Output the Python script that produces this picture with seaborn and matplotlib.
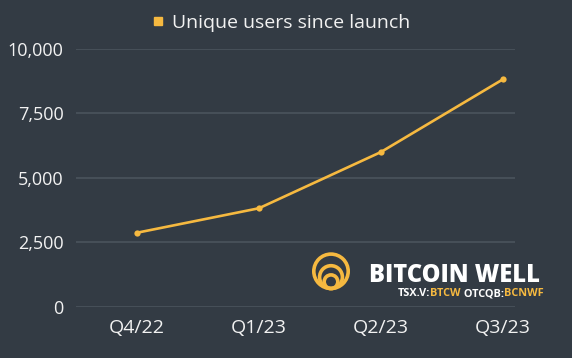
import matplotlib
matplotlib.use("Agg")
import matplotlib.pyplot as plt
from matplotlib.lines import Line2D
from matplotlib.patches import Circle
import seaborn as sns
import pandas as pd

# data
quarters = ["Q4/22", "Q1/23", "Q2/23", "Q3/23"]
users = [2870, 3820, 6000, 8820]
series_name = "Unique users since launch"

BG = "#333b44"
GOLD = "#f6b940"
GRID = "#4b545d"
TXT = "#f2f2f2"

sns.set_theme(style="dark")
plt.rcParams["font.family"] = ["Open Sans", "DejaVu Sans"]

df = pd.DataFrame({"quarter": quarters, "users": users})

fig = plt.figure(figsize=(5.72, 3.58), dpi=100, facecolor=BG)
ax = fig.add_axes([76 / 572, 1 - 306.7 / 358, (515 - 76) / 572, (306.7 - 49) / 358])
ax.set_facecolor(BG)

sns.lineplot(data=df, x="quarter", y="users", ax=ax, color=GOLD, linewidth=1.9,
             marker="o", markersize=4.5, markeredgewidth=0, sort=False, clip_on=False)

ax.set_ylim(0, 10000)
ax.set_xlim(-0.5, 3.1)
ax.set_yticks([0, 2500, 5000, 7500, 10000])
ax.set_yticklabels(["0", "2,500", "5,000", "7,500", "10,000"])
ax.yaxis.grid(True, color=GRID, linewidth=1.2)
ax.xaxis.grid(False)
ax.set_axisbelow(True)
for s in ax.spines.values():
    s.set_visible(False)
ax.tick_params(axis="y", colors=TXT, labelsize=13, length=0, pad=9)
ax.tick_params(axis="x", colors=TXT, labelsize=14, length=0, pad=9)
ax.set_xlabel("")
ax.set_ylabel("")

handle = Line2D([], [], marker="s", linestyle="none", color=GOLD, markersize=6)
fig.legend([handle], [series_name], loc="center", bbox_to_anchor=(0.49, 1 - 23 / 358),
           frameon=False, fontsize=14, labelcolor=TXT, handletextpad=0.3,
           handlelength=0.8)

# logo
for r, cy in [(17.2, 271.3), (11.4, 277.1), (6.8, 281.7)]:
    fig.add_artist(Circle((331 / 100, (358 - cy) / 100), r / 100, transform=fig.dpi_scale_trans,
                          fill=False, edgecolor=GOLD, linewidth=2.6))
fig.text(369 / 572, 1 - 275 / 358, "BITCOIN WELL", color="white", fontsize=17,
         fontweight="heavy", va="center", ha="left")
x0 = 397.7 / 572
y0 = 1 - 293.5 / 358
parts = [("TSX.V:", "white"), ("BTCW", GOLD), (" OTCQB:", "white"), ("BCNWF", GOLD)]
fig.canvas.draw()
renderer = fig.canvas.get_renderer()
x = x0
for txt, col in parts:
    t = fig.text(x, y0, txt, color=col, fontsize=7.8, fontweight="bold", va="center", ha="left")
    bb = t.get_window_extent(renderer=renderer)
    x += bb.width / fig.bbox.width

fig.savefig("out.png", dpi=100, facecolor=BG)
